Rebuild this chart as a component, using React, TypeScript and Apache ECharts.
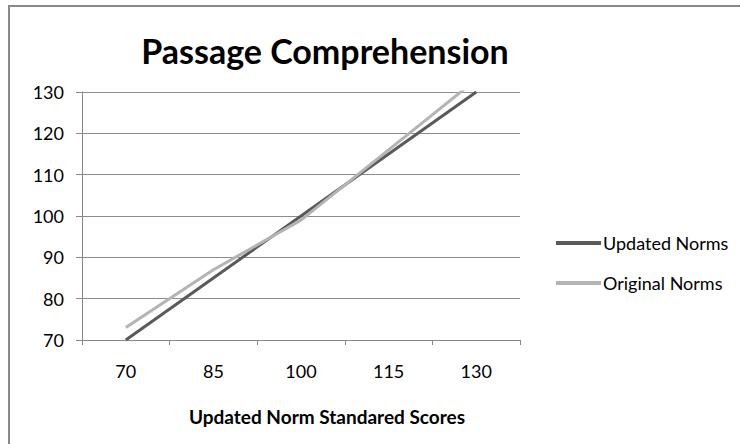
import React, { useEffect, useRef } from "react";
import * as echarts from "echarts";

const categories = ["70", "85", "100", "115", "130"];
const updatedNorms = [70, 85, 100, 115, 130];
const originalNorms = [73, 87, 99, 116, 133];
const seriesNames = ["Updated Norms", "Original Norms"];
const titleText = "Passage Comprehension";
const xAxisTitle = "Updated Norm Standared Scores";

const FONT = "Lato, 'Noto Sans', sans-serif";

export default function App() {
  const ref = useRef<HTMLDivElement>(null);
  useEffect(() => {
    if (!ref.current) return;
    const chart = echarts.init(ref.current, null, { renderer: "svg" });
    chart.setOption({
      animation: false,
      backgroundColor: "#ffffff",
      textStyle: { fontFamily: FONT },
      graphic: [
        {
          type: "rect",
          shape: { x: 9, y: 6, width: 800, height: 500 },
          style: { fill: "none", stroke: "#888888", lineWidth: 2 },
          silent: true,
        },
        {
          type: "text",
          x: 325,
          y: 50,
          style: {
            text: titleText,
            fontFamily: FONT,
            fontSize: 34,
            fontWeight: "bold",
            fill: "#000000",
            align: "center",
            verticalAlign: "middle",
          },
        },
        {
          type: "text",
          x: 327,
          y: 416,
          style: {
            text: xAxisTitle,
            fontFamily: FONT,
            fontSize: 19,
            fontWeight: "bold",
            fill: "#000000",
            align: "center",
            verticalAlign: "middle",
          },
        },
      ],
      grid: { left: 82, top: 92, right: 220, bottom: 104, containLabel: false },
      legend: {
        orient: "vertical",
        left: 551,
        top: 229,
        itemWidth: 45,
        itemHeight: 4,
        itemGap: 22,
        icon: "rect",
        data: seriesNames,
        textStyle: { fontFamily: FONT, fontSize: 18, color: "#000000", padding: [0, 0, 0, -3] },
      },
      xAxis: {
        type: "category",
        data: categories,
        boundaryGap: true,
        axisLine: { lineStyle: { color: "#888888", width: 1 } },
        axisTick: { show: true, length: 5, lineStyle: { color: "#888888" } },
        axisLabel: { color: "#000000", fontSize: 18, margin: 22, fontFamily: FONT },
        splitLine: { show: false },
      },
      yAxis: {
        type: "value",
        min: 70,
        max: 130,
        interval: 10,
        axisLine: { show: true, lineStyle: { color: "#888888", width: 1 } },
        axisTick: { show: true, length: 6, lineStyle: { color: "#888888" } },
        axisLabel: { color: "#000000", fontSize: 18, margin: 18, fontFamily: FONT },
        splitLine: { show: true, lineStyle: { color: "#8c8c8c", width: 1 } },
      },
      series: [
        {
          name: seriesNames[0],
          type: "line",
          data: updatedNorms,
          showSymbol: false,
          symbol: "none",
          clip: true,
          color: "#5a5a5a",
          itemStyle: { color: "#5a5a5a" },
          lineStyle: { color: "#5a5a5a", width: 3 },
        },
        {
          name: seriesNames[1],
          type: "line",
          data: originalNorms,
          showSymbol: false,
          symbol: "none",
          clip: true,
          color: "#b4b4b4",
          itemStyle: { color: "#b4b4b4" },
          lineStyle: { color: "#b4b4b4", width: 3 },
        },
      ],
    });
    return () => chart.dispose();
  }, []);
  return (
    <div
      ref={ref}
      style={{ position: "absolute", left: 0, top: 0, width: 740, height: 444 }}
    />
  );
}
